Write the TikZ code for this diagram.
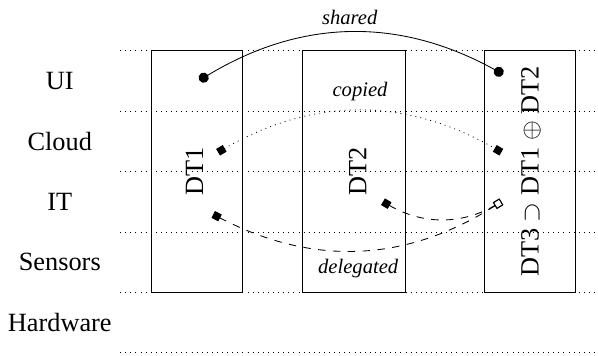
\documentclass[tikz,border=0pt]{standalone}
\usepackage{fontspec}
\setmainfont{Liberation Serif}
\usepackage{amssymb}
\usetikzlibrary{arrows.meta}

\begin{document}
\begin{tikzpicture}[font=\fontsize{12.4}{15}\selectfont,
layer/.style={dotted},
twin/.style={draw,minimum height=4cm,inner sep=0pt},
kind/.style={font=\fontsize{9.7}{12}\selectfont\itshape},
shared/.style={{Circle[length=4.8pt]}-{Circle[length=4.8pt]}},
copied/.style={dotted,{Square[length=3.6pt]}-{Square[length=3.6pt]}},
delegated/.style={dash pattern=on 3.5pt off 3.5pt,{Square[length=3.6pt]}-{Square[open,length=3.6pt]}}
]
\useasboundingbox (-1.99,-0.05) rectangle (7.91,5.84);
\foreach \y in {0,...,5}
  \draw[layer] (0,\y) -- (7.91,\y);
\node (lui) at (-1,4.5) {UI};
\node (lcloud) at (-1,3.5) {Cloud};
\node (lit) at (-1,2.5) {IT};
\node (lsensors) at (-1,1.5) {Sensors};
\node (lhardware) at (-1,0.5) {Hardware};
\node[twin,minimum width=1.52cm] (dt1) at (1.27,3) {};
\node[twin,minimum width=1.72cm] (dt2) at (3.87,3) {};
\node[twin,minimum width=1.51cm] (dt3) at (6.78,3) {};
\node[rotate=90] (tdt1) at (1.23,3) {DT1};
\node[rotate=90] (tdt2) at (3.93,3) {DT2};
\node[rotate=90] (tdt3) at (6.80,3) {DT3 $\supset$ DT1 $\oplus$ DT2};
\coordinate (ui1) at (1.31,4.51);
\coordinate (ui3) at (6.34,4.61);
\coordinate (cl1) at (1.62,3.32);
\coordinate (cl3) at (6.31,3.32);
\coordinate (it1) at (1.54,2.29);
\coordinate (it2) at (4.35,2.50);
\coordinate (it3) at (6.31,2.50);
\draw[shared] (ui1) to[bend left=30] (ui3);
\draw[copied] (cl1) to[bend left=30] (cl3);
\draw[delegated] (it1) to[bend right=30] (it3);
\draw[delegated] (it2) to[bend right=30] (it3);
\node[kind] (lshared) at (3.80,5.55) {shared};
\node[kind] (lcopied) at (3.97,4.33) {copied};
\node[kind] (ldelegated) at (3.94,1.40) {delegated};
\end{tikzpicture}
\end{document}
